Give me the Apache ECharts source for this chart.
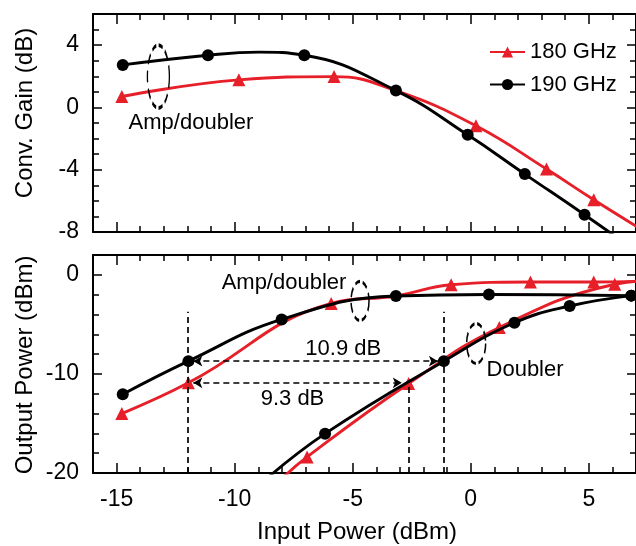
<!DOCTYPE html>
<html>
<head>
<meta charset="utf-8">
<script src="https://cdn.jsdelivr.net/npm/echarts@6/dist/echarts.min.js"></script>
<style>
  html, body { margin: 0; padding: 0; background: #fff; }
  #chart { width: 636px; height: 546px; }
</style>
</head>
<body>
<div id="chart"></div>
<script>
// ---- Conversion gain vs. input power (dB) ----
const gainX180 = [-14.78, -9.82, -5.79, -3.17, 0.22, 3.21, 5.21, 7.3];
const gain180  = [0.70, 1.77, 1.98, 1.08, -1.18, -3.96, -5.93, -7.9];
const gainX190 = [-14.74, -11.13, -8.97, -7.05, -3.17, -0.13, 2.29, 4.82, 7.35];
const gain190  = [2.73, 3.35, 3.55, 3.35, 1.08, -1.76, -4.28, -6.89, -9.6];

// ---- Output power vs. input power (dBm): amplifier + doubler chain ----
const ampX180 = [-14.78, -11.96, -5.91, -3.17, -0.83, 2.53, 5.21, 7.6];
const amp180  = [-14.0, -10.9, -2.89, -2.14, -1.0, -0.73, -0.73, -0.62];
const ampX190 = [-14.74, -11.96, -8.01, -3.17, 0.77, 6.8];
const amp190  = [-12.05, -8.71, -4.5, -2.14, -1.98, -2.1];

// ---- Output power vs. input power (dBm): doubler only ----
const dblX180 = [-8.1, -6.93, -2.63, 1.21, 6.1, 7.6];
const dbl180  = [-20.8, -18.38, -10.97, -5.31, -0.95, -0.6];
const dblX190 = [-8.9, -6.17, -1.14, 1.85, 4.19, 6.8];
const dbl190  = [-21.1, -16.03, -8.71, -4.84, -3.15, -2.1];

// Curve points drawn without a marker (index into the arrays above)
const gain180Plain = [3];
const gain190Plain = [2];
const amp180Plain = [3];

// ---- Axis ticks ----
const xLabels = [-15, -10, -5, 0, 5];
const xMinorTicks = [-16, -15, -14, -13, -12, -11, -10, -9, -8, -7, -6, -5, -4, -3, -2, -1, 0, 1, 2, 3, 4, 5, 6, 7];
const gainLabels = [4, 0, -4, -8];
const gainMinorTicks = [-8, -7, -6, -5, -4, -3, -2, -1, 0, 1, 2, 3, 4, 5, 6];
const powLabels = [0, -10, -20];
const powMinorTicks = [-20, -18, -16, -14, -12, -10, -8, -6, -4, -2, 0, 2];

const FONT = '"Liberation Sans", Arial, Helvetica, sans-serif';
const RED = '#e61f28';
const BLACK = '#000';

function pairs(xs, ys, plain) {
  return xs.map((x, i) => (plain && plain.includes(i))
    ? { value: [x, ys[i]], symbol: 'none' }
    : [x, ys[i]]);
}

const frameLine = { show: true, onZero: false, lineStyle: { color: BLACK, width: 2 } };
function tick(values, len) {
  return { show: true, inside: true, length: len, customValues: values,
           lineStyle: { color: BLACK, width: 1.5 } };
}

function xAxesFor(g, withLabels) {
  const base = { type: 'value', gridIndex: g, min: -16, max: 7,
                 splitLine: { show: false }, axisPointer: { show: false } };
  const label = withLabels
    ? { show: true, customValues: xLabels, margin: 15, color: BLACK, fontSize: 23, fontFamily: FONT }
    : { show: false };
  return [
    Object.assign({}, base, { position: 'bottom', axisLine: frameLine, axisTick: tick(xLabels, 10), axisLabel: label }),
    Object.assign({}, base, { position: 'bottom', axisLine: { show: false, onZero: false }, axisTick: tick(xMinorTicks, 6), axisLabel: { show: false } }),
    Object.assign({}, base, { position: 'top', axisLine: frameLine, axisTick: tick(xLabels, 10), axisLabel: { show: false } }),
    Object.assign({}, base, { position: 'top', axisLine: { show: false, onZero: false }, axisTick: tick(xMinorTicks, 6), axisLabel: { show: false } })
  ];
}

function yAxesFor(g, min, max, labels, minor) {
  const base = { type: 'value', gridIndex: g, min: min, max: max,
                 splitLine: { show: false }, axisPointer: { show: false } };
  return [
    Object.assign({}, base, { position: 'left', axisLine: frameLine, axisTick: tick(labels, 9),
      axisLabel: { show: true, customValues: labels, margin: 14, color: BLACK, fontSize: 23, fontFamily: FONT } }),
    Object.assign({}, base, { position: 'left', axisLine: { show: false, onZero: false }, axisTick: tick(minor, 6), axisLabel: { show: false } }),
    Object.assign({}, base, { position: 'right', axisLine: frameLine, axisTick: tick(labels, 9), axisLabel: { show: false } }),
    Object.assign({}, base, { position: 'right', axisLine: { show: false, onZero: false }, axisTick: tick(minor, 6), axisLabel: { show: false } })
  ];
}

function curve(name, xs, ys, color, symbol, xi, yi, plain) {
  return {
    name: name, type: 'line', xAxisIndex: xi, yAxisIndex: yi,
    data: pairs(xs, ys, plain), smooth: 0.45, clip: true,
    symbol: symbol, symbolSize: symbol === 'triangle' ? 13 : 12,
    lineStyle: { color: color, width: 2.9 }, itemStyle: { color: color, opacity: 1 },
    emphasis: { disabled: true }, silent: true,
    z: color === BLACK ? 3 : 2
  };
}

const dashed = { color: BLACK, width: 1.7, type: [6, 4], opacity: 1 };

// Dashed guides marking the input-power offsets between the two chains
const guideLines = [
  [{ coord: [-12, -20] }, { coord: [-12, -3.73] }],
  [{ coord: [-1.14, -20] }, { coord: [-1.14, -3.73] }],
  [{ coord: [-2.63, -20] }, { coord: [-2.63, -10.9] }],
  [{ coord: [-11.75, -8.71], symbol: 'arrow' }, { coord: [-1.39, -8.71], symbol: 'arrow' }],
  [{ coord: [-11.75, -10.9], symbol: 'arrow' }, { coord: [-2.92, -10.9], symbol: 'arrow' }]
];

function ellipseSeries(xi, yi, items) {
  return {
    type: 'scatter', xAxisIndex: xi, yAxisIndex: yi, symbol: 'circle', silent: true,
    data: items.map(e => ({ value: [e.x, e.y], symbolSize: [e.w, e.h] })),
    itemStyle: { color: 'rgba(0,0,0,0)', borderColor: BLACK, borderWidth: 2.2, borderType: [7, 4], opacity: 1 },
    emphasis: { disabled: true }, z: 4
  };
}

function noteSeries(xi, yi, items) {
  return {
    type: 'scatter', xAxisIndex: xi, yAxisIndex: yi, symbolSize: 1, silent: true,
    data: items.map(t => ({ name: t.text, value: [t.x, t.y] })),
    itemStyle: { color: 'rgba(0,0,0,0)', opacity: 1 },
    label: { show: true, position: 'inside', formatter: '{b}', color: BLACK, opacity: 1,
             textBorderWidth: 0, fontSize: 22, fontFamily: FONT },
    emphasis: { disabled: true }, z: 5
  };
}

const chart = echarts.init(document.getElementById('chart'), null, { renderer: 'canvas' });

chart.setOption({
  backgroundColor: '#fff',
  animation: false,
  textStyle: { fontFamily: FONT },
  grid: [
    { left: 93, top: 14, width: 549, height: 218 },
    { left: 93, top: 255, width: 549, height: 218 }
  ],
  xAxis: xAxesFor(0, false).concat(xAxesFor(1, true)),
  yAxis: yAxesFor(0, -8, 6, gainLabels, gainMinorTicks).concat(yAxesFor(1, -20, 2, powLabels, powMinorTicks)),
  legend: {
    data: ['180 GHz', '190 GHz'], orient: 'vertical', left: 489, top: 41, padding: 0,
    itemWidth: 35, itemHeight: 14, itemGap: 10.5, selectedMode: false,
    textStyle: { color: BLACK, fontSize: 22, lineHeight: 22, fontFamily: FONT }
  },
  series: [
    curve('180 GHz', gainX180, gain180, RED, 'triangle', 0, 0, gain180Plain),
    curve('190 GHz', gainX190, gain190, BLACK, 'circle', 0, 0, gain190Plain),
    curve('180 GHz amp/doubler', ampX180, amp180, RED, 'triangle', 4, 4, amp180Plain),
    curve('180 GHz doubler', dblX180, dbl180, RED, 'triangle', 4, 4),
    curve('190 GHz amp/doubler', ampX190, amp190, BLACK, 'circle', 4, 4),
    curve('190 GHz doubler', dblX190, dbl190, BLACK, 'circle', 4, 4),
    {
      type: 'scatter', xAxisIndex: 4, yAxisIndex: 4, data: [], silent: true,
      markLine: {
        silent: true, symbol: ['none', 'none'], symbolSize: [8, 9], animation: false,
        label: { show: false }, lineStyle: dashed, itemStyle: { color: BLACK, opacity: 1 },
        emphasis: { disabled: true },
        data: guideLines
      },
      z: 1
    },
    ellipseSeries(0, 0, [{ x: -13.23, y: 1.98, w: 22, h: 63 }]),
    ellipseSeries(4, 4, [{ x: -4.69, y: -2.64, w: 18, h: 39 }, { x: 0.23, y: -6.93, w: 19, h: 40 }]),
    noteSeries(0, 0, [{ text: 'Amp/doubler', x: -11.85, y: -1.01 }]),
    noteSeries(4, 4, [
      { text: 'Amp/doubler', x: -7.91, y: -0.86 },
      { text: '10.9 dB', x: -5.4, y: -7.43 },
      { text: '9.3 dB', x: -7.55, y: -12.56 },
      { text: 'Doubler', x: 2.3, y: -9.62 }
    ])
  ],
  graphic: [
    { type: 'text', x: 357, y: 532, silent: true,
      style: { text: 'Input Power (dBm)', fill: BLACK, font: '24px ' + FONT, align: 'center', verticalAlign: 'middle' } },
    { type: 'text', x: 25, y: 113, rotation: Math.PI / 2, silent: true,
      style: { text: 'Conv. Gain (dB)', fill: BLACK, font: '24px ' + FONT, align: 'center', verticalAlign: 'middle' } },
    { type: 'text', x: 25, y: 365, rotation: Math.PI / 2, silent: true,
      style: { text: 'Output Power (dBm)', fill: BLACK, font: '24px ' + FONT, align: 'center', verticalAlign: 'middle' } }
  ]
});
</script>
</body>
</html>
